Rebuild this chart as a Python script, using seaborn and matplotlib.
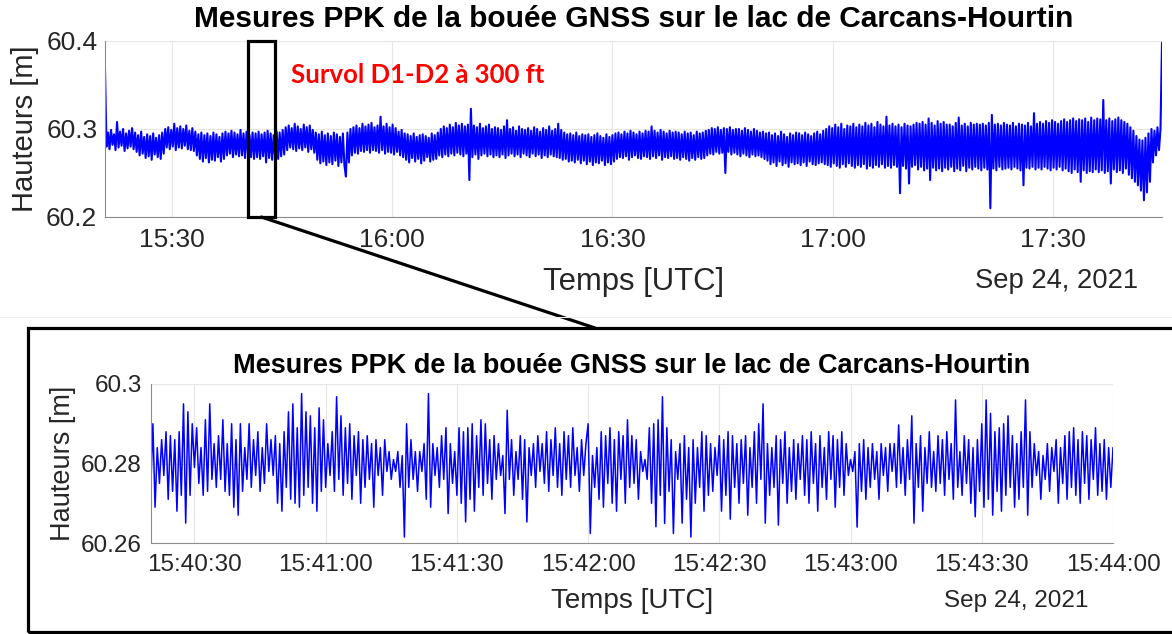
import numpy as np
import pandas as pd
import matplotlib
matplotlib.use("Agg")
import matplotlib.pyplot as plt
import matplotlib.dates as mdates
from matplotlib.patches import Rectangle, ConnectionPatch
from matplotlib.lines import Line2D
import seaborn as sns

# ---------------------------------------------------------------------------
# Data: PPK heights of the GNSS buoy (metres)
# ---------------------------------------------------------------------------
title_text = "Mesures PPK de la bouée GNSS sur le lac de Carcans-Hourtin"
survey_label = "Survol D1-D2 à 300 ft"
date_label = "Sep 24, 2021"
xlabel_text = "Temps [UTC]"
ylabel_text = "Hauteurs [m]"

# full session, 15:20:52 -> 17:44:52
session_start = "2021-09-24 15:20:52"
session_end = "2021-09-24 17:44:52"
session_heights = [
    60.367, 60.280, 60.296, 60.277, 60.299, 60.282, 60.294, 60.276, 60.308, 60.279, 60.297, 60.281, 60.300, 60.275, 60.295, 60.278, 60.298, 60.280, 60.301, 60.277,
    60.296, 60.274, 60.293, 60.270, 60.297, 60.272, 60.291, 60.267, 60.294, 60.269, 60.292, 60.265, 60.295, 60.271, 60.290, 60.268, 60.293, 60.266, 60.296, 60.272,
    60.300, 60.279, 60.302, 60.277, 60.299, 60.280, 60.306, 60.276, 60.301, 60.279, 60.303, 60.278, 60.300, 60.281, 60.304, 60.277, 60.298, 60.276, 60.301, 60.275,
    60.297, 60.270, 60.294, 60.266, 60.296, 60.263, 60.293, 60.267, 60.295, 60.262, 60.292, 60.265, 60.296, 60.264, 60.294, 60.268, 60.291, 60.263, 60.295, 60.266,
    60.297, 60.270, 60.295, 60.272, 60.298, 60.268, 60.296, 60.271, 60.294, 60.269, 60.299, 60.270, 60.295, 60.267, 60.297, 60.272, 60.293, 60.268, 60.296, 60.266,
    60.295, 60.268, 60.297, 60.266, 60.294, 60.269, 60.296, 60.262, 60.298, 60.267, 60.295, 60.265, 60.293, 60.268, 60.297, 60.266, 60.296, 60.269, 60.299, 60.271,
    60.302, 60.276, 60.304, 60.279, 60.301, 60.277, 60.306, 60.275, 60.303, 60.278, 60.300, 60.276, 60.305, 60.279, 60.302, 60.274, 60.304, 60.277, 60.299, 60.273,
    60.296, 60.265, 60.294, 60.261, 60.297, 60.263, 60.293, 60.259, 60.295, 60.262, 60.292, 60.260, 60.296, 60.264, 60.294, 60.258, 60.291, 60.262, 60.295, 60.259,
    60.246, 60.296, 60.262, 60.300, 60.270, 60.302, 60.273, 60.304, 60.272, 60.301, 60.275, 60.306, 60.274, 60.303, 60.276, 60.305, 60.273, 60.307, 60.276, 60.302,
    60.275, 60.304, 60.273, 60.314, 60.276, 60.303, 60.272, 60.306, 60.274, 60.302, 60.273, 60.305, 60.271, 60.301, 60.274, 60.297, 60.270, 60.299, 60.268, 60.295,
    60.265, 60.294, 60.262, 60.292, 60.267, 60.295, 60.263, 60.291, 60.266, 60.293, 60.261, 60.294, 60.264, 60.292, 60.268, 60.290, 60.263, 60.295, 60.265, 60.293,
    60.266, 60.296, 60.270, 60.300, 60.268, 60.303, 60.271, 60.301, 60.269, 60.305, 60.272, 60.302, 60.270, 60.307, 60.273, 60.304, 60.271, 60.306, 60.269, 60.303,
    60.272, 60.305, 60.242, 60.323, 60.268, 60.304, 60.271, 60.302, 60.266, 60.306, 60.270, 60.301, 60.272, 60.303, 60.269, 60.305, 60.271, 60.300, 60.268, 60.302,
    60.270, 60.301, 60.268, 60.299, 60.271, 60.303, 60.267, 60.310, 60.270, 60.300, 60.272, 60.302, 60.269, 60.298, 60.271, 60.303, 60.268, 60.300, 60.272, 60.299,
    60.270, 60.301, 60.268, 60.298, 60.272, 60.302, 60.269, 60.300, 60.271, 60.297, 60.267, 60.301, 60.270, 60.299, 60.268, 60.303, 60.271, 60.298, 60.269, 60.300,
    60.268, 60.306, 60.267, 60.299, 60.265, 60.296, 60.266, 60.294, 60.263, 60.295, 60.264, 60.293, 60.262, 60.296, 60.265, 60.292, 60.261, 60.294, 60.264, 60.293,
    60.260, 60.294, 60.263, 60.291, 60.259, 60.293, 60.262, 60.295, 60.261, 60.292, 60.264, 60.290, 60.259, 60.294, 60.262, 60.291, 60.260, 60.293, 60.263, 60.295,
    60.266, 60.296, 60.268, 60.294, 60.267, 60.297, 60.269, 60.295, 60.265, 60.298, 60.268, 60.296, 60.270, 60.294, 60.267, 60.297, 60.266, 60.295, 60.269, 60.298,
    60.268, 60.297, 60.266, 60.303, 60.269, 60.298, 60.267, 60.296, 60.270, 60.299, 60.265, 60.297, 60.268, 60.295, 60.267, 60.298, 60.269, 60.296, 60.266, 60.297,
    60.267, 60.296, 60.265, 60.294, 60.268, 60.297, 60.266, 60.295, 60.264, 60.296, 60.267, 60.293, 60.265, 60.297, 60.268, 60.295, 60.266, 60.296, 60.267, 60.298,
    60.270, 60.299, 60.272, 60.301, 60.271, 60.300, 60.274, 60.302, 60.272, 60.299, 60.273, 60.301, 60.250, 60.300, 60.274, 60.302, 60.271, 60.299, 60.273, 60.300,
    60.271, 60.300, 60.269, 60.298, 60.272, 60.301, 60.270, 60.299, 60.268, 60.297, 60.271, 60.300, 60.269, 60.298, 60.270, 60.296, 60.268, 60.297, 60.266, 60.295,
    60.264, 60.296, 60.260, 60.293, 60.262, 60.295, 60.258, 60.292, 60.263, 60.297, 60.259, 60.294, 60.261, 60.291, 60.257, 60.295, 60.262, 60.293, 60.260, 60.296,
    60.261, 60.295, 60.259, 60.293, 60.262, 60.296, 60.258, 60.294, 60.263, 60.292, 60.260, 60.295, 60.259, 60.297, 60.261, 60.294, 60.262, 60.298, 60.260, 60.300,
    60.259, 60.303, 60.257, 60.301, 60.261, 60.305, 60.258, 60.302, 60.256, 60.306, 60.260, 60.300, 60.257, 60.304, 60.261, 60.303, 60.258, 60.306, 60.256, 60.302,
    60.259, 60.305, 60.257, 60.303, 60.260, 60.307, 60.255, 60.304, 60.258, 60.306, 60.256, 60.302, 60.259, 60.308, 60.257, 60.305, 60.260, 60.303, 60.256, 60.314,
    60.258, 60.304, 60.256, 60.306, 60.259, 60.303, 60.257, 60.305, 60.227, 60.302, 60.258, 60.306, 60.255, 60.304, 60.238, 60.303, 60.257, 60.305, 60.259, 60.307,
    60.254, 60.306, 60.257, 60.308, 60.253, 60.305, 60.255, 60.312, 60.242, 60.307, 60.256, 60.304, 60.253, 60.309, 60.255, 60.306, 60.252, 60.308, 60.256, 60.305,
    60.254, 60.305, 60.257, 60.303, 60.252, 60.307, 60.255, 60.313, 60.253, 60.304, 60.258, 60.306, 60.252, 60.303, 60.256, 60.307, 60.254, 60.305, 60.257, 60.306,
    60.255, 60.305, 60.253, 60.306, 60.256, 60.304, 60.254, 60.307, 60.210, 60.316, 60.255, 60.305, 60.253, 60.306, 60.257, 60.304, 60.254, 60.307, 60.255, 60.305,
    60.256, 60.304, 60.254, 60.307, 60.257, 60.303, 60.255, 60.306, 60.253, 60.305, 60.236, 60.304, 60.256, 60.307, 60.255, 60.303, 60.257, 60.318, 60.254, 60.306,
    60.256, 60.308, 60.254, 60.306, 60.257, 60.309, 60.255, 60.307, 60.253, 60.310, 60.256, 60.308, 60.254, 60.306, 60.257, 60.309, 60.253, 60.311, 60.255, 60.308,
    60.252, 60.310, 60.250, 60.312, 60.254, 60.309, 60.251, 60.311, 60.240, 60.310, 60.253, 60.312, 60.250, 60.308, 60.252, 60.313, 60.251, 60.310, 60.254, 60.312,
    60.251, 60.311, 60.253, 60.333, 60.250, 60.310, 60.252, 60.312, 60.238, 60.309, 60.254, 60.311, 60.251, 60.313, 60.253, 60.310, 60.250, 60.308, 60.255, 60.306,
    60.248, 60.302, 60.244, 60.298, 60.240, 60.292, 60.236, 60.288, 60.230, 60.287, 60.219, 60.290, 60.228, 60.295, 60.240, 60.300, 60.262, 60.298, 60.270, 60.302,
    60.276, 60.300, 60.398,
]

# close-up window during the D1-D2 overflight, 15:40:20 -> 15:44:00 (0.5 s step)
window_start = "2021-09-24 15:40:20"
window_end = "2021-09-24 15:44:00"
window_heights = [
    60.273, 60.290, 60.269, 60.284, 60.275, 60.286, 60.277, 60.288, 60.271, 60.287, 60.273, 60.286, 60.268, 60.288, 60.272, 60.295, 60.265, 60.293, 60.272, 60.290,
    60.279, 60.289, 60.275, 60.284, 60.272, 60.291, 60.273, 60.295, 60.276, 60.285, 60.274, 60.287, 60.276, 60.291, 60.273, 60.285, 60.272, 60.290, 60.269, 60.286,
    60.267, 60.290, 60.273, 60.284, 60.276, 60.290, 60.274, 60.286, 60.277, 60.288, 60.273, 60.284, 60.275, 60.290, 60.278, 60.286, 60.277, 60.287, 60.270, 60.285,
    60.268, 60.288, 60.274, 60.293, 60.271, 60.295, 60.270, 60.289, 60.269, 60.2976, 60.272, 60.293, 60.274, 60.292, 60.270, 60.289, 60.268, 60.294, 60.273, 60.291,
    60.274, 60.285, 60.277, 60.288, 60.273, 60.2968, 60.276, 60.292, 60.272, 60.289, 60.275, 60.290, 60.271, 60.287, 60.277, 60.288, 60.270, 60.286, 60.274, 60.287,
    60.276, 60.285, 60.269, 60.286, 60.277, 60.284, 60.272, 60.286, 60.278, 60.283, 60.276, 60.281, 60.278, 60.283, 60.274, 60.282, 60.2615, 60.290, 60.274, 60.286,
    60.276, 60.283, 60.273, 60.283, 60.278, 60.285, 60.271, 60.2976, 60.269, 60.285, 60.277, 60.284, 60.274, 60.287, 60.276, 60.289, 60.2674, 60.285, 60.275, 60.283,
    60.272, 60.289, 60.270, 60.288, 60.2653, 60.289, 60.271, 60.290, 60.268, 60.287, 60.274, 60.291, 60.272, 60.290, 60.275, 60.286, 60.271, 60.287, 60.276, 60.285,
    60.277, 60.282, 60.2674, 60.2934, 60.276, 60.286, 60.272, 60.283, 60.276, 60.287, 60.271, 60.286, 60.2653, 60.284, 60.277, 60.285, 60.274, 60.287, 60.278, 60.285,
    60.275, 60.288, 60.273, 60.286, 60.277, 60.289, 60.274, 60.285, 60.272, 60.288, 60.276, 60.287, 60.274, 60.289, 60.277, 60.284, 60.273, 60.286, 60.277, 60.285,
    60.290, 60.2624, 60.282, 60.274, 60.284, 60.271, 60.288, 60.269, 60.287, 60.275, 60.289, 60.270, 60.286, 60.268, 60.288, 60.276, 60.287, 60.270, 60.291, 60.274,
    60.287, 60.275, 60.286, 60.271, 60.283, 60.278, 60.281, 60.276, 60.289, 60.270, 60.290, 60.2641, 60.291, 60.272, 60.2968, 60.2649, 60.289, 60.273, 60.286, 60.2624,
    60.283, 60.276, 60.285, 60.265, 60.287, 60.271, 60.284, 60.2615, 60.286, 60.270, 60.284, 60.274, 60.288, 60.268, 60.287, 60.272, 60.285, 60.273, 60.284, 60.277,
    60.287, 60.268, 60.286, 60.272, 60.288, 60.266, 60.287, 60.274, 60.285, 60.270, 60.286, 60.275, 60.287, 60.267, 60.284, 60.274, 60.288, 60.270, 60.290, 60.276,
    60.295, 60.265, 60.285, 60.272, 60.284, 60.274, 60.287, 60.2645, 60.286, 60.275, 60.288, 60.270, 60.284, 60.273, 60.286, 60.271, 60.285, 60.276, 60.287, 60.272,
    60.286, 60.270, 60.288, 60.275, 60.285, 60.268, 60.287, 60.274, 60.284, 60.271, 60.288, 60.276, 60.287, 60.269, 60.286, 60.274, 60.288, 60.272, 60.285, 60.277,
    60.281, 60.278, 60.283, 60.264, 60.285, 60.273, 60.286, 60.271, 60.284, 60.274, 60.285, 60.276, 60.283, 60.271, 60.285, 60.277, 60.284, 60.273, 60.285, 60.278,
    60.285, 60.274, 60.2897, 60.275, 60.284, 60.272, 60.286, 60.276, 60.292, 60.265, 60.285, 60.274, 60.287, 60.268, 60.284, 60.275, 60.288, 60.274, 60.283, 60.273,
    60.287, 60.275, 60.286, 60.272, 60.288, 60.276, 60.285, 60.271, 60.296, 60.274, 60.283, 60.272, 60.287, 60.275, 60.286, 60.270, 60.284, 60.2666, 60.286, 60.273,
    60.290, 60.269, 60.296, 60.271, 60.2926, 60.267, 60.288, 60.273, 60.289, 60.268, 60.290, 60.272, 60.292, 60.274, 60.287, 60.269, 60.285, 60.271, 60.288, 60.274,
    60.296, 60.267, 60.288, 60.274, 60.285, 60.277, 60.283, 60.271, 60.282, 60.276, 60.285, 60.273, 60.284, 60.278, 60.286, 60.270, 60.284, 60.275, 60.287, 60.271,
    60.288, 60.274, 60.289, 60.272, 60.286, 60.270, 60.288, 60.275, 60.287, 60.271, 60.286, 60.276, 60.289, 60.272, 60.285, 60.273, 60.286, 60.271, 60.284, 60.274,
    60.284,
]

session_ticks = [60.2, 60.3, 60.4]
window_ticks = [60.26, 60.28, 60.3]

session = pd.DataFrame({
    "time": pd.date_range(session_start, session_end, periods=len(session_heights)),
    "height": session_heights,
})
window = pd.DataFrame({
    "time": pd.date_range(window_start, window_end, periods=len(window_heights)),
    "height": window_heights,
})

# ---------------------------------------------------------------------------
# Style
# ---------------------------------------------------------------------------
sns.set_style("white")
plt.rcParams["font.family"] = ["Liberation Sans", "DejaVu Sans"]
TXT = "#262626"
LINE = "#0000ff"
GRID = "#e6e6e6"
SPINE = "#8c8c8c"

W, H = 1172, 634
fig = plt.figure(figsize=(W / 100, H / 100), dpi=100)


def fx(px):
    return px / W


def fy(py):
    return 1 - py / H


def style_axes(ax, tick_size, pad_x, pad_y):
    ax.grid(True, color=GRID, linewidth=0.8)
    ax.set_axisbelow(True)
    for side in ("top", "right"):
        ax.spines[side].set_visible(False)
    for side in ("left", "bottom"):
        ax.spines[side].set_color(SPINE)
        ax.spines[side].set_linewidth(0.8)
    ax.tick_params(axis="both", direction="in", length=4.5, width=0.8,
                   color=TXT, labelcolor=TXT, labelsize=tick_size)
    ax.tick_params(axis="x", pad=pad_x)
    ax.tick_params(axis="y", pad=pad_y)


# ---------------------------------------------------------------------------
# Top panel: whole session
# ---------------------------------------------------------------------------
ax1 = fig.add_axes([fx(105), fy(217), fx(1162) - fx(105), fy(41) - fy(217)])
sns.lineplot(data=session, x="time", y="height", ax=ax1, color=LINE,
             linewidth=1.5, estimator=None, sort=False)
ax1.set_xlim(session["time"].iloc[0], session["time"].iloc[-1])
ax1.set_ylim(session_ticks[0], session_ticks[-1])
ax1.set_yticks(session_ticks)
ax1.set_yticklabels([f"{v:.1f}" for v in session_ticks])
ax1.xaxis.set_major_locator(mdates.MinuteLocator(byminute=[0, 30]))
ax1.xaxis.set_major_formatter(mdates.DateFormatter("%H:%M"))
style_axes(ax1, 19, 8, 5.5)
ax1.set_xlabel(xlabel_text, fontsize=22.3, color=TXT)
ax1.set_ylabel(ylabel_text, fontsize=21, color=TXT)
ax1.xaxis.set_label_coords(0.5, (217 - 282) / 176)
ax1.xaxis.label.set_va("center")
ax1.yaxis.set_label_coords((25 - 105) / 1057, 0.5)
ax1.yaxis.label.set_va("center")
ax1.set_title(title_text, fontsize=21.5, fontweight="bold", color="black",
              y=(217 - 19) / 176, pad=0, va="center")
ax1.text((1138 - 105) / 1057, (217 - 281) / 176, date_label, transform=ax1.transAxes,
         ha="right", va="center", fontsize=19.7, color=TXT)
fig.text(fx(418), fy(75), survey_label, ha="center", va="center", color="#ff0000",
         fontsize=18.5, fontweight="bold", family=["Lato", "DejaVu Sans"])

# ---------------------------------------------------------------------------
# Bottom panel: close-up
# ---------------------------------------------------------------------------
ax2 = fig.add_axes([fx(150.7), fy(543), fx(1113) - fx(150.7), fy(384) - fy(543)])
sns.lineplot(data=window, x="time", y="height", ax=ax2, color=LINE,
             linewidth=1.1, estimator=None, sort=False)
ax2.set_xlim(window["time"].iloc[0], window["time"].iloc[-1])
ax2.set_ylim(window_ticks[0], window_ticks[-1])
ax2.set_yticks(window_ticks)
ax2.set_yticklabels(["60.26", "60.28", "60.3"])
ax2.xaxis.set_major_locator(mdates.SecondLocator(bysecond=[0, 30]))
ax2.xaxis.set_major_formatter(mdates.DateFormatter("%H:%M:%S"))
style_axes(ax2, 17.5, 8, 6.5)
ax2.set_xlabel(xlabel_text, fontsize=20.1, color=TXT)
ax2.set_ylabel(ylabel_text, fontsize=19.5, color=TXT)
ax2.xaxis.set_label_coords(0.5, (543 - 601) / 159)
ax2.xaxis.label.set_va("center")
ax2.yaxis.set_label_coords((62.5 - 150.7) / 962.3, 0.5)
ax2.yaxis.label.set_va("center")
ax2.set_title(title_text, fontsize=19.5, fontweight="bold", color="black",
              y=(543 - 366) / 159, pad=0, va="center")
ax2.text((1088 - 150.7) / 962.3, (543 - 601) / 159, date_label, transform=ax2.transAxes,
         ha="right", va="center", fontsize=17.5, color=TXT)

# ---------------------------------------------------------------------------
# Zoom annotation: window box on the session, leader line and inset frame
# ---------------------------------------------------------------------------
t0 = mdates.date2num(window["time"].iloc[0])
t1 = mdates.date2num(window["time"].iloc[-1])
ax1.add_patch(Rectangle((t0, session_ticks[0]), t1 - t0, session_ticks[-1] - session_ticks[0],
                        fill=False, edgecolor="black", linewidth=2.3, clip_on=False, zorder=5))
fig.add_artist(ConnectionPatch(xyA=((t0 + t1) / 2, session_ticks[0]), coordsA=ax1.transData,
                               xyB=(fx(595), fy(328)), coordsB=fig.transFigure,
                               color="black", linewidth=2.3))
fig.add_artist(Rectangle((fx(28), fy(632)), fx(1180) - fx(28), fy(328) - fy(632),
                         transform=fig.transFigure, fill=False, edgecolor="black",
                         linewidth=2.3))
fig.add_artist(Line2D([0, 1], [fy(317), fy(317)], transform=fig.transFigure,
                      color="#eeeeee", linewidth=0.8))

fig.savefig("out.png", dpi=100)
